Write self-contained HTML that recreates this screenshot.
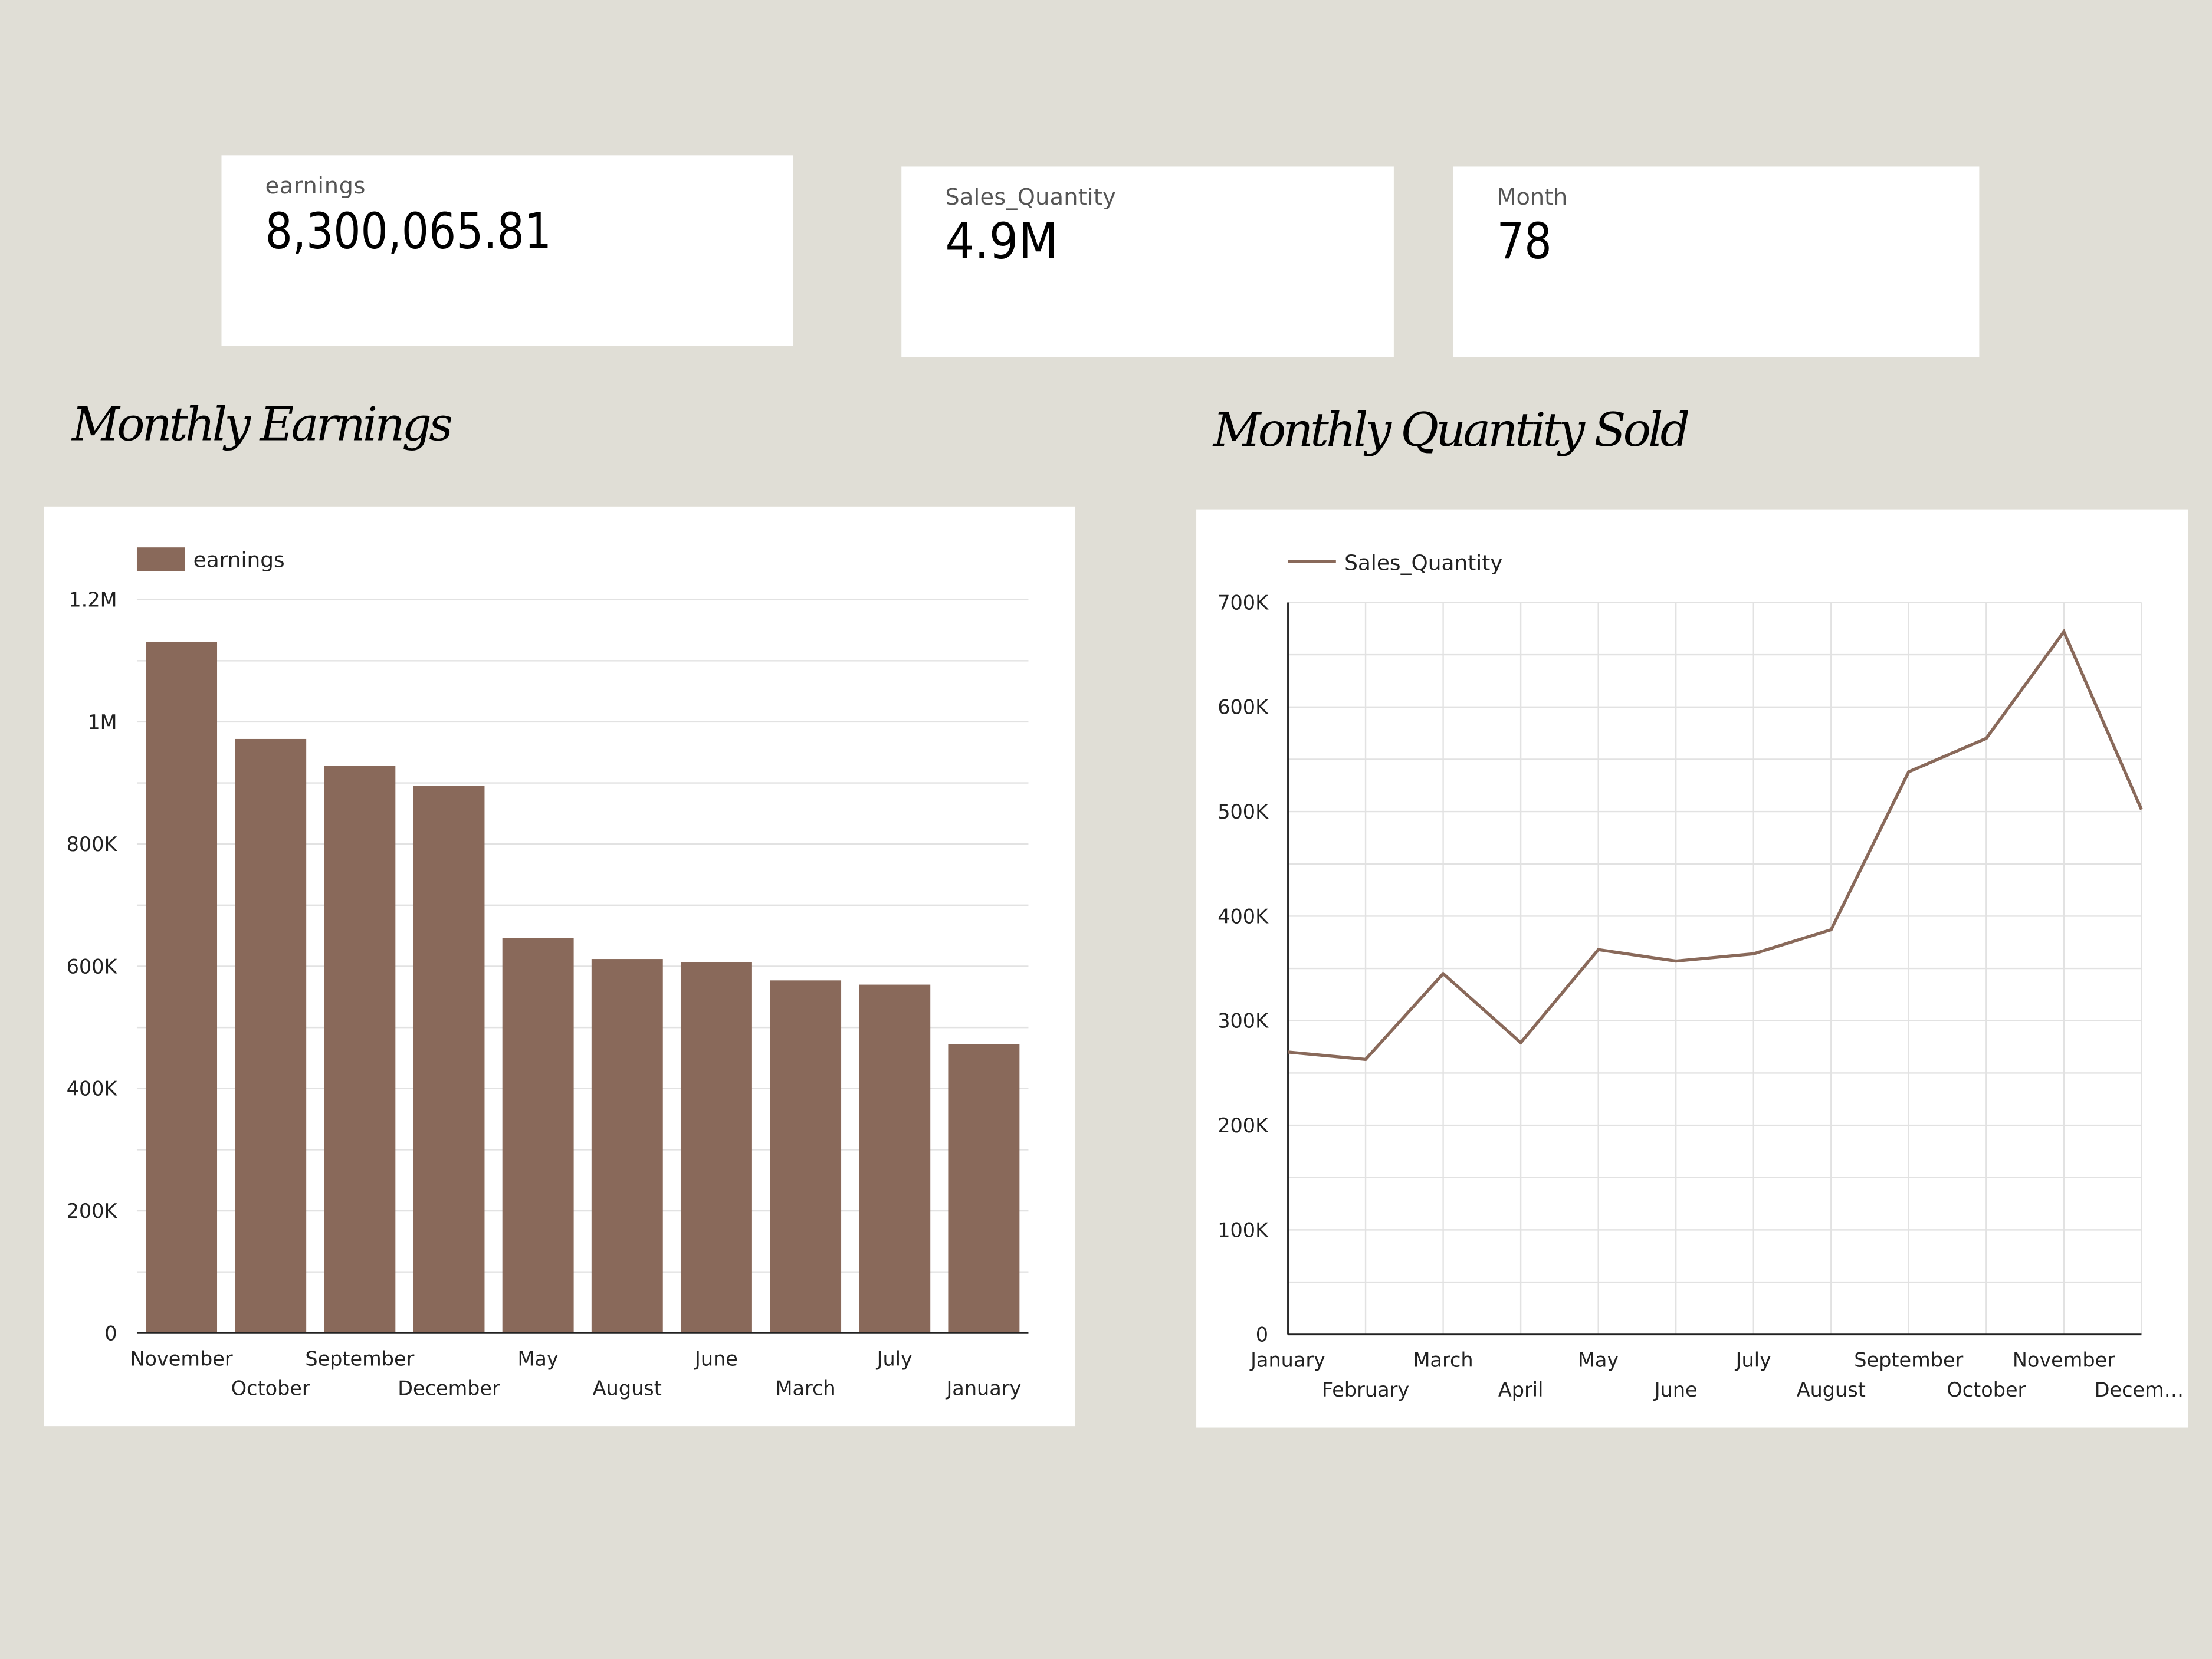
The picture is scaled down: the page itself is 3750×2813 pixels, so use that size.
<!DOCTYPE html>
<html><head><meta charset="utf-8"><style>
html,body{margin:0;padding:0;background:#e0ded6;}
svg{display:block;}
.s{font-family:"DejaVu Sans","Liberation Sans",sans-serif;}
</style></head><body>
<svg id="root" width="3750" height="2813" viewBox="0 0 1568 1176" xmlns="http://www.w3.org/2000/svg">
<rect width="1568" height="1176" fill="#e0ded6"/>
<g>
<rect x="157" y="110" width="405" height="135" fill="#fff"/>
<text x="188" y="137" class="s" font-size="16" fill="#555" textLength="71">earnings</text>
<text x="188" y="176" class="s" font-size="35" fill="#000" textLength="203" lengthAdjust="spacingAndGlyphs">8,300,065.81</text>
</g>
<g>
<rect x="639" y="118" width="349" height="135" fill="#fff"/>
<text x="670" y="145" class="s" font-size="16" fill="#555" textLength="121">Sales_Quantity</text>
<text x="670" y="183" class="s" font-size="35" fill="#000" textLength="80" lengthAdjust="spacingAndGlyphs">4.9M</text>
</g>
<g>
<rect x="1030" y="118" width="373" height="135" fill="#fff"/>
<text x="1061" y="145" class="s" font-size="16" fill="#555">Month</text>
<text x="1061" y="183" class="s" font-size="35" fill="#000" textLength="39" lengthAdjust="spacingAndGlyphs">78</text>
</g>
<text x="51" y="312" font-family="'DejaVu Serif','Liberation Serif',serif" font-style="italic" font-size="33" fill="#000" textLength="270">Monthly Earnings</text>
<text x="860" y="316" font-family="'DejaVu Serif','Liberation Serif',serif" font-style="italic" font-size="33" fill="#000" textLength="338">Monthly Quantity Sold</text>
<rect x="31" y="359" width="731" height="652" fill="#fff"/>
<rect x="848" y="361" width="703" height="651" fill="#fff"/>
<g id="bar"></g>
<g id="line"></g>
</svg>
<script>
const barCats=["November","October","September","December","May","August","June","March","July","January"];
const barVals=[1131000,972000,928000,895000,646000,612000,607000,577000,570000,473000];
const barTicks=["0","200K","400K","600K","800K","1M","1.2M"];
const lineCats=["January","February","March","April","May","June","July","August","September","October","November","Decem…"];
const lineVals=[270000,263000,345000,279000,368000,357000,364000,387000,538000,570000,672000,502000];
const lineTicks=["0","100K","200K","300K","400K","500K","600K","700K"];
const NS="http://www.w3.org/2000/svg";
function mk(p,t,a,txt){const e=document.createElementNS(NS,t);for(const k in a)e.setAttribute(k,a[k]);if(txt!=null)e.textContent=txt;p.appendChild(e);return e;}
const C="#89695a";
// bar chart
const bg=document.getElementById('bar');
const bx0=97,bx1=729,by0=945,by1=425,bmax=1200000;
const byS=v=>by0-(v/bmax)*(by0-by1);
for(let i=0;i<=12;i++){const y=byS(i*100000);
const l=mk(bg,'line',{x1:bx0,x2:bx1,y1:y,y2:y,stroke:'#e2e2e2','stroke-width':1});
}
barTicks.forEach((t,i)=>{const e=mk(bg,'text',{x:83,y:byS(i*200000)+5,'text-anchor':'end','font-size':14,class:'s',fill:'#222'},t);
});
const bw=(bx1-bx0)/barCats.length;
barCats.forEach((c,i)=>{const x=bx0+bw*i+bw*0.1;const y=byS(barVals[i]);
const r=mk(bg,'rect',{x:x,y:y,width:bw*0.8,height:by0-y,fill:C});

const t=mk(bg,'text',{x:bx0+bw*(i+0.5),y:i%2?989:968,'text-anchor':'middle','font-size':14,class:'s',fill:'#222'},c);
});
const ax=mk(bg,'line',{x1:bx0,x2:bx1,y1:by0,y2:by0,stroke:'#222','stroke-width':1.2});

const lg=mk(bg,'rect',{x:97,y:388,width:34,height:17,fill:C});

const lt=mk(bg,'text',{x:137,y:402,'font-size':15,class:'s',fill:'#222'},'earnings');

// line chart
const lgp=document.getElementById('line');
const lx0=913,lx1=1518,ly0=946,ly1=427,lmax=700000;
const lyS=v=>ly0-(v/lmax)*(ly0-ly1);
const lxS=i=>lx0+(lx1-lx0)*i/(lineCats.length-1);
for(let i=0;i<=14;i++){const y=lyS(i*50000);
const l=mk(lgp,'line',{x1:lx0,x2:lx1,y1:y,y2:y,stroke:'#e2e2e2','stroke-width':1});
}
lineCats.forEach((c,i)=>{const x=lxS(i);
const l=mk(lgp,'line',{x1:x,x2:x,y1:ly1,y2:ly0,stroke:'#e2e2e2','stroke-width':1});

const last=i==lineCats.length-1;
const t=mk(lgp,'text',{x:last?1548:x,y:i%2?990:969,'text-anchor':last?'end':'middle','font-size':14,class:'s',fill:'#222'},c);
});
lineTicks.forEach((t,i)=>{const e=mk(lgp,'text',{x:899,y:lyS(i*100000)+5,'text-anchor':'end','font-size':14,class:'s',fill:'#222'},t);
});
const la1=mk(lgp,'line',{x1:lx0,x2:lx1,y1:ly0,y2:ly0,stroke:'#222','stroke-width':1.2});

const la2=mk(lgp,'line',{x1:lx0,x2:lx0,y1:ly1,y2:ly0,stroke:'#222','stroke-width':1.2});

const pts=lineVals.map((v,i)=>lxS(i)+','+lyS(v)).join(' ');
const pl=mk(lgp,'polyline',{points:pts,fill:'none',stroke:C,'stroke-width':2.2});

const ls=mk(lgp,'line',{x1:913,x2:947,y1:398,y2:398,stroke:C,'stroke-width':2.2});

const lt2=mk(lgp,'text',{x:953,y:404,'font-size':15,class:'s',fill:'#222'},'Sales_Quantity');

</script>
</body></html>
